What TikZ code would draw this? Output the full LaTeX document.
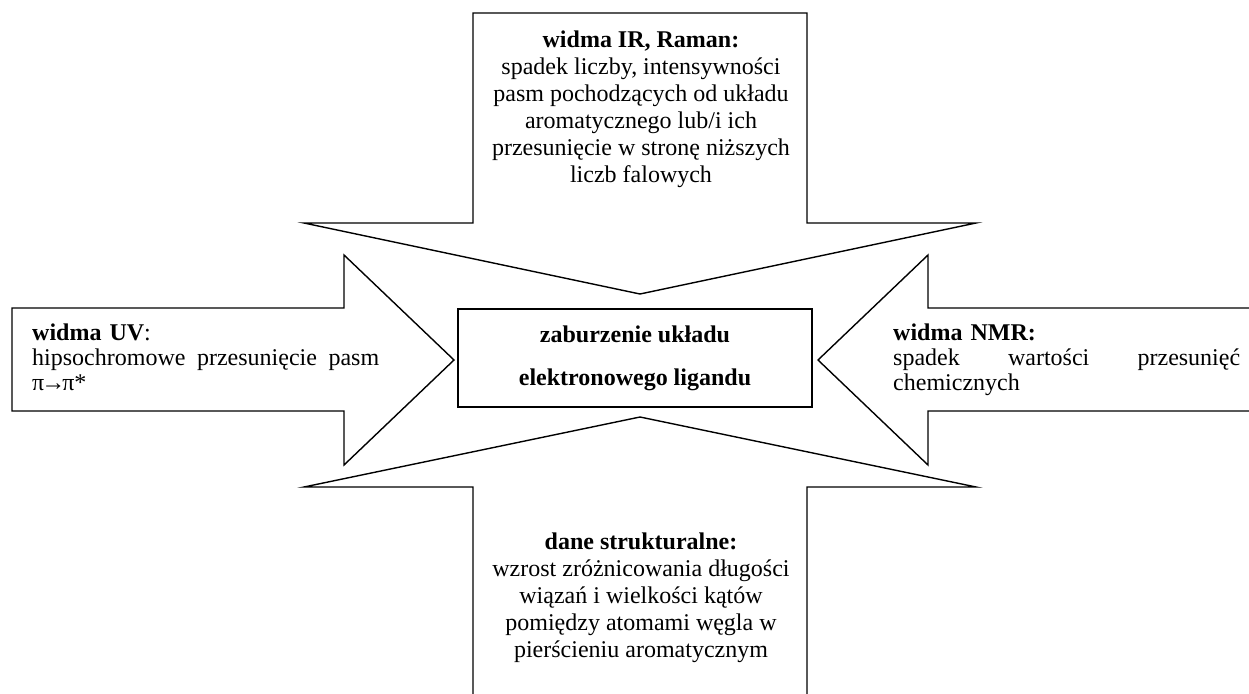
\documentclass[tikz,border=0pt]{standalone}
\usepackage{fontspec}
\setmainfont{Liberation Serif}
\usetikzlibrary{positioning}
\definecolor{ink}{HTML}{000000}
\tikzset{
  arrshape/.style={draw=ink,line width=1.4pt,fill=white,line join=miter},
  core/.style={draw=ink,line width=2.2pt,fill=white,minimum width=354pt,minimum height=98pt,align=center,font=\fontsize{24}{43}\selectfont\bfseries,inner sep=0pt},
  txt/.style={font=\fontsize{24}{27}\selectfont,inner sep=0pt,text=ink},
  side/.style={txt,font=\fontsize{24}{25}\selectfont,align=left,text width=347pt,anchor=north west},
}
\begin{document}
\begin{tikzpicture}[x=1pt,y=-1pt]
\clip (0,0) rectangle (1249,693);
% block arrows
\draw[arrshape] (473,13) -- (807,13) -- (807,223) -- (976,223) -- (640,294) -- (304,223) -- (473,223) -- cycle;
\draw[arrshape] (473,700) -- (473,487) -- (304,487) -- (640,417) -- (976,487) -- (807,487) -- (807,700);
\draw[arrshape] (12,308) -- (344,308) -- (344,255) -- (454,360) -- (344,465) -- (344,411) -- (12,411) -- cycle;
\draw[arrshape] (1260,308) -- (928,308) -- (928,255) -- (818,360) -- (928,465) -- (928,411) -- (1260,411);
% centre
\node[core] (zab) at (635,358) {zaburzenie układu\\elektronowego ligandu};
% texts
\node[txt,align=center,anchor=north] (ir) at (641,31) {\textbf{widma IR, Raman:}\\spadek liczby, intensywności\\pasm pochodzących od układu\\aromatycznego lub/i ich\\przesunięcie w stronę niższych\\liczb falowych};
\node[side] (uv) at (32,324) {\textbf{widma UV}:\\hipsochromowe\hfill przesunięcie\hfill pasm\\π\kern-3pt→\kern-3ptπ*};
\node[side] (nmr) at (893,324) {\textbf{widma NMR:}\\spadek\hfill wartości\hfill przesunięć\\chemicznych};
\node[txt,align=center,anchor=north] (str) at (641,533) {\textbf{dane strukturalne:}\\wzrost zróżnicowania długości\\wiązań i wielkości kątów\\pomiędzy atomami węgla w\\pierścieniu aromatycznym};
\end{tikzpicture}
\end{document}
